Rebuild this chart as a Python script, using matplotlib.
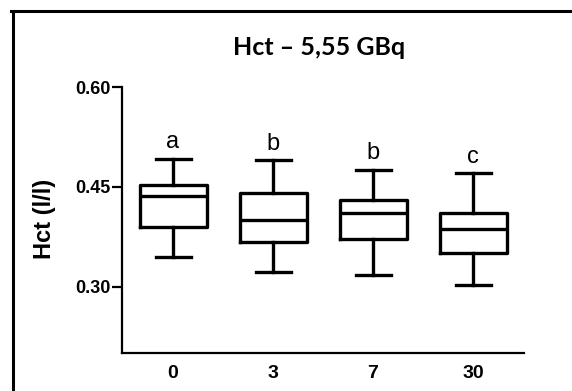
import matplotlib
matplotlib.use("Agg")
import matplotlib.pyplot as plt
from matplotlib.lines import Line2D

# values
groups = ['0', '3', '7', '30']
whisker_hi = [0.492, 0.490, 0.475, 0.470]
q3 = [0.453, 0.441, 0.430, 0.410]
median = [0.436, 0.400, 0.411, 0.386]
q1 = [0.390, 0.367, 0.371, 0.351]
whisker_lo = [0.345, 0.322, 0.317, 0.303]
letters = ['a', 'b', 'b', 'c']
yticks = [0.30, 0.45, 0.60]

fig = plt.figure(figsize=(5.72, 3.91), dpi=100)
ax = fig.add_axes([122 / 572, 1 - 353 / 391, 402 / 572, 266 / 391])

stats = []
for i in range(len(groups)):
    stats.append({'whislo': whisker_lo[i], 'q1': q1[i], 'med': median[i],
                  'q3': q3[i], 'whishi': whisker_hi[i], 'fliers': []})

lw = 2.4
ax.bxp(stats, positions=range(len(groups)), widths=0.67, showfliers=False,
       boxprops=dict(color='black', linewidth=lw),
       medianprops=dict(color='black', linewidth=lw),
       whiskerprops=dict(color='black', linewidth=lw),
       capprops=dict(color='black', linewidth=lw),
       capwidths=0.35)

for i, s in enumerate(letters):
    ax.text(i, whisker_hi[i] + 0.016, s, ha='center', va='baseline',
            fontsize=17, family='Liberation Sans')

ax.set_xlim(-0.51, 3.51)
ax.set_ylim(0.20, 0.60)
ax.set_yticks(yticks)
ax.set_yticklabels(['%.2f' % v for v in yticks], fontsize=13,
                   fontweight='bold', family='Liberation Sans')
ax.set_xticks(range(len(groups)))
ax.set_xticklabels(groups, fontsize=14, fontweight='bold',
                   family='Liberation Sans')
ax.tick_params(axis='y', length=7, width=1.6, pad=1)
ax.tick_params(axis='x', length=0, pad=9)
for side in ['top', 'right']:
    ax.spines[side].set_visible(False)
for side in ['left', 'bottom']:
    ax.spines[side].set_linewidth(1.6)

fig.text(44 / 572, 1 - 219 / 391, 'Hct (l/l)', rotation=90, ha='center',
         va='center', fontsize=17, fontweight='bold', family='Liberation Sans')
fig.text(318.7 / 572, 1 - 55 / 391, 'Hct \u2013 5,55 GBq', ha='center',
         va='baseline', fontsize=18, fontweight='bold', family='Lato')

# frame around the picture (only top and left edges are in view)
fig.add_artist(Line2D([12.5 / 572, 12.5 / 572], [0, 1 - 10.5 / 391],
                      transform=fig.transFigure, color='black', linewidth=2.2))
fig.add_artist(Line2D([11 / 572, 1], [1 - 10.5 / 391, 1 - 10.5 / 391],
                      transform=fig.transFigure, color='black', linewidth=2.2))

fig.savefig('out.png', dpi=100)
